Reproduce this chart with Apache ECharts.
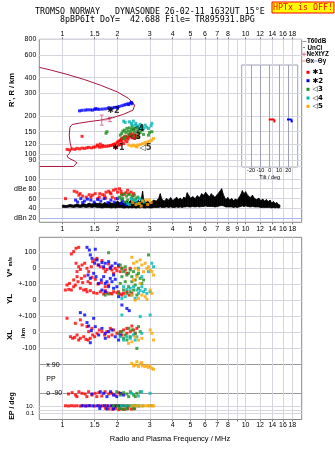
<!DOCTYPE html>
<html><head><meta charset="utf-8">
<script src="https://cdn.jsdelivr.net/npm/echarts@6/dist/echarts.min.js"></script>
<style>html,body{margin:0;padding:0;background:#fff}#c{width:335px;height:451px}</style>
</head><body><div id="c"></div>
<script>
// ---------- tick / label arrays ----------
const freqTicks = [1,1.5,2,3,4,5,6,7,8,9,10,12,14,16,18];
const freqLabelsTop = [1,1.5,2,3,4,5,6,7,8,10,12,14,16,18];
const freqLabelsMid = [1,1.5,2,3,4,5,6,7,8,9,10,12,14,16,18];
const heightTicks = [800,600,400,300,200,150,120,100,90,80];
const dbTicks = [100,80,60,40,20];
const dbTickLabels = ['100','dBe 80','60','40','dBn 20'];
const rowTicks = [100,0,-100,-200];
const rowTickLabels = ['100','0','+-100','0'];
const xlTicks = [100,0,-100];
const xlTickLabels = ['+-100','0','-100'];
const ppTicks = [90,0,-90];
const ppTickLabels = ['x 90','PP','o -90'];
const epTicks = [10,1,0.1];
const epLabelVals = [10,0.1];
const epLabelText = ['10.','0.1'];
const tiltTicks = [-20,-10,0,10,20];
const modeNames = ['\u27311','\u27312','\u25C13','\u25C14','\u25C15'];

// ---------- true-height profile ----------
const profileF = [0.75,0.86,1.06,1.31,1.61,1.99,2.30,2.48,2.43,2.16,1.87,1.61,1.39,1.23,1.13,1.10,1.09,1.10,1.12,1.12,1.09,1.06,1.08,1.16,1.20,1.22,1.15,0.75];
const profileH = [481,459,424,387,349,309,274,243,222,206,193,185,180,175,171,163,141,124,111,109,101,97,93,88.7,85.5,83,80,80];

// NeXtYZ error bars
const nexF = [1.64,1.82];
const nexH = [185,187];
const nexLo = [169,180];
const nexHi = [203,194];

// virtual heights per mode [MHz, km]
const virtH1 = [[1.06,109],[1.09,108],[1.13,110],[1.17,109],[1.20,111],[1.24,110],[1.28,111.5],[1.28,138],[1.32,111],[1.36,112],[1.39,113],[1.44,112],[1.48,113.5],[1.51,114],[1.55,118],[1.56,116],[1.59,113.5],[1.61,120],[1.64,114],[1.66,117],[1.70,115],[1.75,115.6],[1.79,116],[1.83,117],[1.87,117.8],[1.90,119],[1.93,114],[1.94,120.6],[1.97,112.8],[1.99,122.7],[2.01,125],[2.03,117.8],[2.04,126.6],[2.07,128.9],[2.07,119],[2.10,130.6],[2.11,133],[2.11,125],[2.16,134.4],[2.16,121],[2.18,136.8],[2.20,128.9],[2.22,138.6],[2.25,134.4],[2.25,125],[2.28,131.3],[2.30,136],[2.32,141],[2.35,143],[2.38,139],[2.40,134.4],[2.41,144.5],[2.44,136.8],[2.48,133],[2.50,141],[2.55,139],[2.60,135]];
const virtH2 = [[1.24,219],[1.28,221],[1.33,222],[1.37,223],[1.42,223],[1.46,222],[1.50,225],[1.52,228],[1.55,226],[1.59,225],[1.65,226],[1.71,227],[1.77,229],[1.80,232],[1.83,227],[1.88,231],[1.93,233],[1.99,234],[2.00,230],[2.04,237],[2.11,240],[2.17,243],[2.22,246],[2.28,249],[2.30,245],[2.35,252],[2.38,255],[2.40,249]];
const virtH3 = [[1.73,146],[1.75,150],[2.07,141],[2.11,145.5],[2.14,151.7],[2.16,133],[2.18,154.5],[2.20,136.8],[2.22,148.2],[2.25,159.3],[2.28,151.7],[2.30,143],[2.32,161],[2.35,149.8],[2.38,156.4],[2.40,139],[2.41,163.9],[2.44,154.5],[2.48,148.2],[2.50,159.3],[2.55,162.1],[2.55,136.8],[2.58,151.7],[2.60,145.5],[2.63,157.3],[2.66,148.2],[2.69,163.9],[2.74,154.5],[2.77,143],[2.95,141],[2.99,148.2],[3.08,150]];
const virtH4 = [[2.16,181.8],[2.20,177.6],[2.32,179.6],[2.38,174.6],[2.40,169.1],[2.44,181.8],[2.50,169.1],[2.52,174.6],[2.58,167],[2.63,159.3],[2.66,171.3],[2.74,163.9],[2.77,159.3],[2.83,169.1],[2.88,163],[2.95,159.3],[3.05,167],[3.08,174.6]];
const virtH5 = [[2.30,117.8],[2.38,116],[2.44,117.8],[2.50,115.6],[2.55,114],[2.58,117.8],[2.66,119],[2.74,121],[2.83,123.6],[2.86,119],[2.93,125],[3.01,126.6],[3.08,128.9],[3.14,133]];

// mode label positions
const modeLabelF = [2.02,1.90,2.50,2.59,2.85];
const modeLabelH = [112.5,219,136.6,158,112.5];

// tilt inset
const tiltLo = [-1,18.5];
const tiltHi = [5,23.5];
const tiltH = [187,187];

// noise (T60dB) trace
const noiseF = [1.00,1.05,1.10,1.15,1.20,1.25,1.30,1.35,1.40,1.45,1.50,1.55,1.60,1.65,1.70,1.75,1.80,1.85,1.90,1.95,2.00,2.05,2.10,2.15,2.20,2.25,2.30,2.35,2.40,2.45,2.50,2.55,2.60,2.65,2.70,
 2.74,2.78,2.85,2.92,3.00,3.08,3.15,3.25,3.35,3.42,3.50,3.60,3.70,3.80,3.90,4.00,4.10,4.20,4.30,4.40,4.50,4.60,4.70,4.80,4.90,5.00,
 5.15,5.30,5.45,5.60,5.75,5.90,6.05,6.20,6.35,6.50,6.65,6.80,
 7.00,7.20,7.40,7.60,7.80,8.00,8.20,8.40,8.60,8.80,9.00,9.20,9.40,9.60,9.80,
 10.0,10.3,10.6,10.9,11.2,11.5,11.8,12.1,12.4,12.7,13.0,13.3,13.6,13.9,14.2,14.5,14.8,15.1,15.4];
const noiseTop = [47,46,48,47,49,47,50,48,51,49,52,50,51,49,52,50,53,51,50,52,55,52,54,51,53,55,52,56,53,55,52,54,56,53,62,
 75,58,52,55,51,54,57,55,60,70,58,55,60,57,62,56,59,63,58,61,57,63,60,72,66,61,
 64,60,66,62,70,67,73,68,64,70,66,63,
 68,74,80,66,58,62,57,60,56,59,57,62,68,76,70,
 74,66,62,67,60,58,61,56,59,55,58,54,57,51,54,50,52,48,47];
const noiseBot = [42,42,43,42,43,42,43,42,43,42,43,42,42,41,42,42,42,41,42,41,42,42,42,41,41,42,41,42,41,42,41,41,42,41,42,
 42,41,41,42,41,41,42,42,42,43,42,42,43,42,43,42,42,43,42,43,42,43,43,44,43,43,
 44,43,44,43,44,44,45,44,44,44,44,43,
 44,45,46,45,43,43,43,43,42,43,42,43,44,45,44,
 45,44,43,44,43,43,43,42,42,42,42,42,42,41,42,41,42,41,42];

// amplitudes dB per mode
const amp1 = [[1.04,60],[1.16,75],[1.20,73],[1.23,67],[1.25,70],[1.29,65],[1.35,63],[1.40,68],[1.43,63],[1.46,67],[1.51,70],[1.56,60],[1.59,63],[1.60,70],[1.66,68],[1.70,66],[1.72,61],[1.73,73],[1.79,75],[1.82,72],[1.84,70],[1.87,63],[1.90,77],[1.95,60],[1.96,79],[2.00,73],[2.05,80],[2.09,75],[2.10,70],[2.15,68],[2.22,72],[2.27,77],[2.30,70],[2.37,73],[2.42,66],[2.45,70]];
const amp2 = [[1.18,57],[1.21,53],[1.26,60],[1.29,52],[1.32,55],[1.37,59],[1.43,57],[1.49,53],[1.56,58],[1.62,55],[1.69,60],[1.77,52],[1.84,57],[1.92,53],[2.00,60],[2.09,50],[2.13,55],[2.22,48]];
const amp3 = [[2.05,63],[2.09,59],[2.11,67],[2.13,60],[2.18,70],[2.21,53],[2.24,65],[2.27,57],[2.32,68],[2.40,63],[2.42,57],[2.47,67],[2.52,60],[2.58,63]];
const amp4 = [[2.27,50],[2.32,48],[2.37,60],[2.47,57],[2.52,55],[2.58,50],[2.63,60],[2.72,57],[2.80,53]];
const amp5 = [[2.42,52],[2.52,48],[2.63,50],[2.69,45],[2.74,55],[2.86,57],[2.92,48],[2.98,57],[3.05,52]];

// V* m/s per mode
const vel1 = [[1.119,91],[1.152,106],[1.187,127],[1.227,133],[1.187,32],[1.227,10],[1.202,-21],[1.253,-7],[1.280,21],[1.323,32],[1.362,0],[1.391,-21],[1.438,10],[1.463,42],[1.500,53],[1.544,63],[1.564,21],[1.610,10],[1.644,49],[1.679,0],[1.714,-21],[1.750,-7],[1.787,27],[1.825,6],[1.864,-11],[1.903,-32],[1.943,0],[1.984,-15],[2.026,10],[2.069,-21],[2.112,0],[2.203,-11],[2.249,-32],[2.345,0],[1.060,-106],[1.092,-96],[1.119,-138],[1.152,-117],[1.177,-106],[1.217,-85],[1.253,-127],[1.306,-138],[1.362,-149],[1.420,-142],[1.481,-155],[1.544,-159],[1.610,-149],[1.679,-163],[1.750,-155],[1.825,-159],[1.903,-149],[1.984,-155],[2.069,-163],[2.157,-159],[2.249,-149],[2.316,-170],[2.394,-159],[1.380,-85],[1.420,-96],[1.450,-57],[1.512,-70],[1.564,-100],[1.631,-91],[1.714,-117],[1.787,-106],[1.269,-64],[1.290,-91],[1.152,-74],[1.083,-134],[1.038,-138],[1.202,-53],[1.323,-49],[1.345,-134],[1.714,-142],[1.864,-163],[2.026,-149],[2.112,-170]];
const vel2 = [[1.362,133],[1.403,116],[1.420,85],[1.512,121],[1.450,63],[1.500,32],[1.544,53],[1.577,21],[1.644,36],[1.679,10],[1.714,32],[1.787,42],[1.825,0],[1.864,15],[1.943,32],[2.026,21],[1.380,-43],[1.420,-64],[1.481,-32],[1.525,-53],[1.577,-96],[1.631,-74],[1.679,-53],[1.714,-96],[1.750,-85],[1.787,-117],[1.825,-64],[1.864,-85],[1.903,-43],[1.943,-70],[1.984,-117],[1.644,-138],[1.714,-149],[1.903,-127],[2.112,-233],[2.249,-255],[2.316,-269],[2.026,-180]];
const vel3 = [[1.787,99],[2.069,21],[2.112,0],[2.157,-21],[2.203,10],[2.249,-43],[2.297,-32],[2.345,-11],[2.394,-53],[2.445,-21],[2.496,-74],[2.550,-43],[2.603,-32],[2.658,-64],[2.714,-96],[2.771,-74],[2.112,-53],[2.203,-85],[2.297,-117],[2.394,-85],[2.496,-106],[2.603,-127],[2.069,-96],[2.157,-138],[2.249,-159],[2.345,-149],[2.445,-138],[2.550,-170],[2.026,-159],[1.714,-170],[1.787,-163],[2.951,85]];
const vel4 = [[2.157,-117],[2.249,-134],[2.345,-127],[2.445,-117],[2.550,-138],[2.658,-142],[2.714,-117],[2.771,-149],[2.830,-134],[2.890,-159],[3.013,-149],[3.077,32],[3.142,10],[2.951,-21],[2.603,0],[2.112,-191],[2.203,-180],[2.394,-170],[2.496,-191],[2.603,-159],[2.714,-53]];
const vel5 = [[2.394,70],[2.445,32],[2.496,0],[2.550,42],[2.603,-11],[2.658,53],[2.714,21],[2.771,-21],[2.830,32],[2.890,0],[2.951,10],[3.013,-11],[3.077,-21],[3.142,-43],[2.550,-53],[2.658,-96],[2.445,-74],[2.394,-170],[2.496,-202],[2.603,-191],[2.714,-170],[2.830,-180],[2.890,-197],[3.013,-138],[3.077,-159]];

// XL km per mode
const xl1 = [[1.060,87],[1.106,-30],[1.138,-40],[1.167,-34],[1.202,-19],[1.227,-51],[1.253,-40],[1.306,-30],[1.345,-47],[1.380,-51],[1.420,-40],[1.463,-19],[1.500,-30],[1.544,-8],[1.590,13],[1.644,2],[1.700,-19],[1.750,2],[1.825,23],[1.903,13],[1.984,-8],[2.069,2],[2.157,13],[2.249,23],[2.345,2],[2.445,13],[2.550,23],[1.253,77],[1.280,45],[1.362,34],[1.391,2],[1.177,55],[1.450,23],[1.787,-30],[1.864,-19],[2.112,-19],[2.249,-8],[2.394,38],[2.496,-8]];
const xl2 = [[1.253,123],[1.323,108],[1.362,60],[1.391,38],[1.438,9],[1.481,87],[1.512,34],[1.577,-19],[1.644,23],[1.714,-8],[1.787,2],[1.864,13],[1.420,-68],[1.943,-30],[2.026,-51],[2.069,-19],[1.714,-40]];
const xl3 = [[2.026,-8],[2.112,2],[2.203,-19],[2.297,23],[2.394,13],[2.496,-8],[2.603,34],[2.658,2],[2.157,-40],[2.249,-51],[2.550,-104],[2.345,-30]];
const xl4 = [[2.069,-30],[2.157,-51],[2.249,-30],[2.345,-40],[2.445,-19],[2.550,-30],[2.658,98],[3.013,108],[2.112,108],[2.714,-8],[2.496,-51]];
const xl5 = [[2.394,-62],[2.496,-30],[2.603,-51],[3.013,13],[3.077,-8],[3.142,-51],[2.297,-72],[2.714,-40]];

// PP deg per mode
const pp1 = [[1.08,-94],[1.13,-86],[1.18,-101],[1.20,-111],[1.23,-80],[1.28,-90],[1.33,-94],[1.36,-111],[1.39,-80],[1.45,-101],[1.51,-90],[1.54,-111],[1.58,-86],[1.64,-107],[1.71,-80],[1.79,-94],[1.86,-90],[1.94,-101],[2.03,-86],[2.11,-94]];
const pp2 = [[1.45,-94],[1.61,-80],[1.68,-90],[1.75,-111],[1.83,-80],[1.90,-101],[1.98,-111],[2.07,-90],[2.16,-101]];
const pp3 = [[1.98,-80],[2.07,-101],[2.16,-86],[2.25,-94],[2.30,-111],[2.35,-80],[2.45,-101],[2.50,-111],[2.55,-90],[2.66,-80]];
const pp4 = [[2.39,-90],[2.60,-107],[2.71,-80],[3.01,-90]];
const pp5 = [[2.39,98],[2.45,82],[2.50,88],[2.55,109],[2.60,78],[2.66,94],[2.71,103],[2.74,82],[2.83,78],[2.89,86],[2.95,73],[3.01,82],[3.08,67],[3.14,61]];

// EP deg per mode
const ep1 = [[1.04,14],[1.08,12],[1.12,15],[1.16,13],[1.20,14],[1.25,12],[1.30,15],[1.36,13],[1.42,14],[1.50,12],[1.58,15],[1.66,13],[1.75,14],[1.85,12],[1.95,15],[2.05,13],[2.15,14],[2.25,12],[1.72,3],[1.80,2],[1.88,1.5],[1.95,2.5],[2.03,1.2],[2.10,2],[2.18,1.5],[2.28,2.5],[2.38,1.8],[2.48,2.2]];
const ep2 = [[1.28,14],[1.34,12],[1.40,15],[1.47,13],[1.55,14],[1.62,12],[1.70,15],[1.78,13],[1.86,14],[1.94,12],[2.02,14],[1.60,2.5],[1.75,2],[1.90,2.2]];
const ep3 = [[1.90,14],[2.00,13],[2.10,15],[2.20,12],[2.30,14],[2.40,13],[2.50,15],[2.60,12],[2.05,2.5],[2.25,2],[2.45,2.5],[2.15,1.5]];
const ep4 = [[2.10,14],[2.22,13],[2.35,14],[2.48,12],[2.62,14],[2.75,13],[3.05,15]];
const ep5 = [[2.40,14],[2.50,13],[2.60,14],[2.70,12],[2.80,14],[2.90,13],[3.00,14],[3.10,13],[3.15,14],[2.95,15]];

// ---------- chart building ----------
const palette = ['#ff0000','#0000ff','#1f8f1f','#00b4b4','#ffa500'];
const FONT = 'Liberation Sans';
const gridLine = '#d6d6de';
const FMIN = 0.748, FMAX = 20.24;
const L = 39.3, W = 262.4;

function labelFor(vals, labels) {
  return function (v) {
    for (let i = 0; i < vals.length; i++) {
      if (Math.abs(vals[i] - v) <= 1e-6 * Math.max(1, Math.abs(vals[i]))) return labels[i];
    }
    return '';
  };
}
const fmtF = v => String(Math.round(v * 10) / 10);
const lbl = (extra) => Object.assign({fontFamily: FONT, fontSize: 7, color: '#000'}, extra);

function fx(grid, extra) {
  return Object.assign({
    gridIndex: grid, type: 'log', logBase: 10, min: FMIN, max: FMAX,
    axisLine: {show: false}, axisTick: {show: false}, axisLabel: {show: false}, splitLine: {show: false}
  }, extra || {});
}
function hiddenY(grid) {
  return {gridIndex: grid, type: 'value', min: 0, max: 1, show: false, splitLine: {show: false}};
}

const grids = [
  {left: L, top: 39.3, width: W, height: 183, show: true, borderColor: '#888', borderWidth: 1},   // 0 frame top
  {left: L, top: 39.3, width: W, height: 128.7},                                                  // 1 heights
  {left: L, top: 169, width: W, height: 53.3},                                                    // 2 dB
  {left: 241.7, top: 65, width: 56, height: 102, show: true, borderColor: '#a0a0b8', borderWidth: 1}, // 3 tilt
  {left: L, top: 237.3, width: W, height: 182.2, show: true, borderColor: '#888', borderWidth: 1},  // 4 frame bottom
  {left: L, top: 236.8, width: W, height: 63},    // 5 V*
  {left: L, top: 300.5, width: W, height: 63},    // 6 XL
  {left: L, top: 364.7, width: W, height: 28.6},  // 7 PP
  {left: L, top: 402.6, width: W, height: 14.8}   // 8 EP
];

const xAxes = [
  fx(0, {position: 'bottom',
    axisTick: {show: true, length: 2, customValues: freqTicks, lineStyle: {color: '#777'}},
    axisLabel: lbl({show: true, customValues: freqLabelsMid, formatter: fmtF, margin: 3}),
    splitLine: {show: true, lineStyle: {color: gridLine, width: 1}}}),
  fx(1, {position: 'top',
    axisTick: {show: true, length: 2, customValues: freqLabelsTop, lineStyle: {color: '#777'}},
    axisLabel: lbl({show: true, customValues: freqLabelsTop, formatter: fmtF, margin: 2})}),
  fx(2),
  {gridIndex: 3, type: 'value', min: -30, max: 30,
    axisLine: {show: false},
    axisTick: {show: false, customValues: tiltTicks},
    axisLabel: lbl({customValues: tiltTicks, fontSize: 5.5, margin: 0.5}),
    splitLine: {show: true, lineStyle: {color: '#a0a0b8', width: 1}},
    name: 'Tilt / deg', nameLocation: 'middle', nameGap: 6,
    nameTextStyle: {fontFamily: FONT, fontSize: 5.5, color: '#000'}},
  fx(4, {position: 'bottom',
    axisTick: {show: true, length: 2, customValues: freqTicks, lineStyle: {color: '#777'}},
    axisLabel: lbl({show: true, customValues: freqLabelsTop, formatter: fmtF, margin: 2}),
    splitLine: {show: true, lineStyle: {color: gridLine, width: 1}}}),
  fx(5), fx(6), fx(7), fx(8)
];

const yAxes = [
  hiddenY(0),
  {gridIndex: 1, type: 'log', logBase: 10, min: 77.8, max: 800,
    axisLine: {show: false}, axisTick: {show: false, customValues: heightTicks},
    axisLabel: lbl({customValues: heightTicks, margin: 3}),
    splitLine: {show: true, lineStyle: {color: gridLine}}},
  {gridIndex: 2, type: 'value', min: 12, max: 120,
    axisLine: {show: false}, axisTick: {show: false, customValues: [100,80,60,40]},
    axisLabel: lbl({customValues: dbTicks, formatter: labelFor(dbTicks, dbTickLabels), margin: 3}),
    splitLine: {show: true, lineStyle: {color: gridLine}}},
  {gridIndex: 3, type: 'log', logBase: 10, min: 79, max: 502, show: false, splitLine: {show: false}},
  hiddenY(4),
  {gridIndex: 5, type: 'value', min: -200, max: 200,
    axisLine: {show: false}, axisTick: {show: false, customValues: rowTicks},
    axisLabel: lbl({customValues: rowTicks, formatter: labelFor(rowTicks, rowTickLabels), margin: 3}),
    splitLine: {show: true, lineStyle: {color: gridLine}}},
  {gridIndex: 6, type: 'value', min: -200, max: 200,
    axisLine: {show: false}, axisTick: {show: false, customValues: xlTicks},
    axisLabel: lbl({customValues: xlTicks, formatter: labelFor(xlTicks, xlTickLabels), margin: 3}),
    splitLine: {show: true, lineStyle: {color: gridLine}}},
  {gridIndex: 7, type: 'value', min: -90, max: 90,
    axisLine: {show: false}, axisTick: {show: false, customValues: [90,-90]},
    axisLabel: lbl({customValues: ppTicks, formatter: labelFor(ppTicks, ppTickLabels), inside: true, margin: 7}),
    splitLine: {show: true, lineStyle: {color: '#999'}}},
  {gridIndex: 8, type: 'log', logBase: 10, min: 0.01, max: 100,
    axisLine: {show: false}, axisTick: {show: false, customValues: epTicks},
    axisLabel: lbl({customValues: epLabelVals, formatter: labelFor(epLabelVals, epLabelText), fontSize: 6, margin: 5}),
    splitLine: {show: true, lineStyle: {color: gridLine}}}
];

function sc(data, color, ai) {
  return {type: 'scatter', data: data, xAxisIndex: ai, yAxisIndex: ai, symbol: 'rect', symbolSize: 3,
    itemStyle: {color: color}, clip: false, silent: true, animation: false, z: 3};
}

const series = [];
// profile
series.push({type: 'line', xAxisIndex: 1, yAxisIndex: 1, data: profileF.map((f, i) => [f, profileH[i]]),
  showSymbol: false, lineStyle: {color: '#a8163f', width: 1}, silent: true, animation: false, z: 2});
// NeXtYZ
series.push({type: 'line', xAxisIndex: 1, yAxisIndex: 1, data: nexF.map((f, i) => [f, nexH[i]]),
  showSymbol: false, lineStyle: {color: '#e8709c', width: 1}, silent: true, animation: false, z: 2});
series.push({type: 'custom', xAxisIndex: 1, yAxisIndex: 1, silent: true, animation: false, z: 2,
  data: nexF.map((f, i) => [f, nexH[i], nexLo[i], nexHi[i]]),
  renderItem: function (params, api) {
    const a = api.coord([api.value(0), api.value(2)]);
    const b = api.coord([api.value(0), api.value(3)]);
    const st = {stroke: '#e8709c', lineWidth: 1};
    return {type: 'group', children: [
      {type: 'line', shape: {x1: a[0], y1: a[1], x2: b[0], y2: b[1]}, style: st},
      {type: 'line', shape: {x1: a[0] - 2, y1: a[1], x2: a[0] + 2, y2: a[1]}, style: st},
      {type: 'line', shape: {x1: b[0] - 2, y1: b[1], x2: b[0] + 2, y2: b[1]}, style: st}
    ]};
  }});
[virtH1, virtH2, virtH3, virtH4, virtH5].forEach((d, i) => series.push(sc(d, palette[i], 1)));
// mode labels
series.push({type: 'scatter', xAxisIndex: 1, yAxisIndex: 1, symbolSize: 0, silent: true, animation: false, z: 5,
  data: modeNames.map((n, i) => ({name: n, value: [modeLabelF[i], modeLabelH[i]]})),
  label: {show: true, position: 'inside', formatter: '{b}', color: '#000',
    fontFamily: 'DejaVu Sans', fontSize: 8, fontWeight: 'bold'}});
// noise band
series.push({type: 'custom', xAxisIndex: 2, yAxisIndex: 2, silent: true, animation: false, z: 2,
  data: noiseF.map((f, i) => [f, noiseTop[i], noiseBot[i]]),
  renderItem: function (params, api) {
    const i = params.dataIndex;
    if (i >= noiseF.length - 1) return null;
    const p1 = api.coord([api.value(0), api.value(1)]);
    const p4 = api.coord([api.value(0), api.value(2)]);
    const p2 = api.coord([noiseF[i + 1], noiseTop[i + 1]]);
    const p3 = api.coord([noiseF[i + 1], noiseBot[i + 1]]);
    return {type: 'polygon', shape: {points: [p1, p2, p3, p4]},
      style: {fill: '#000', stroke: '#000', lineWidth: 0.7}};
  }});
[amp1, amp2, amp3, amp4, amp5].forEach((d, i) => {
  const s = sc(d, palette[i], 2);
  if (i === 0) {
    s.markLine = {silent: true, symbol: 'none', label: {show: false}, animation: false,
      lineStyle: {color: '#aab4ee', type: 'solid', width: 1}, data: [{yAxis: 20}]};
  }
  series.push(s);
});
// tilt inset
series.push({type: 'custom', xAxisIndex: 3, yAxisIndex: 3, silent: true, animation: false, z: 4,
  data: tiltLo.map((t, i) => [t, tiltHi[i], tiltH[i]]),
  renderItem: function (params, api) {
    const a = api.coord([api.value(0), api.value(2)]);
    const b = api.coord([api.value(1), api.value(2)]);
    const c = palette[params.dataIndex];
    return {type: 'group', children: [
      {type: 'line', shape: {x1: a[0], y1: a[1], x2: b[0], y2: b[1]}, style: {stroke: c, lineWidth: 2}},
      {type: 'line', shape: {x1: b[0], y1: b[1], x2: b[0], y2: b[1] + 3}, style: {stroke: c, lineWidth: 2}}
    ]};
  }});
[vel1, vel2, vel3, vel4, vel5].forEach((d, i) => series.push(sc(d, palette[i], 5)));
[xl1, xl2, xl3, xl4, xl5].forEach((d, i) => series.push(sc(d, palette[i], 6)));
[pp1, pp2, pp3, pp4, pp5].forEach((d, i) => series.push(sc(d, palette[i], 7)));
[ep1, ep2, ep3, ep4, ep5].forEach((d, i) => series.push(sc(d, palette[i], 8)));

// ---------- texts ----------
const MONO = '8.3px "DejaVu Sans Mono"';
function txt(x, y, text, font, extra) {
  return Object.assign({type: 'text', x: x, y: y, z: 10, silent: true,
    style: Object.assign({text: text, font: font, fill: '#000', align: 'left', verticalAlign: 'middle',
      textAlign: 'left', textVerticalAlign: 'middle'}, (extra && extra.style) || {})},
    extra && extra.rotation !== undefined ? {rotation: extra.rotation} : {});
}
const C = {align: 'center', textAlign: 'center'};
const R90 = Math.PI / 2;
const LEG = 'bold 6.3px "Liberation Sans"';
const legendY = [72.3, 80.7, 89.3, 98, 106.3];

const graphics = [
  txt(35, 12.3, 'TROMSO NORWAY   DYNASONDE 26-02-11 1632UT 15\u00B0E', MONO),
  txt(60, 19.7, '8pBP6It DoY=  42.688 File= TR895931.BPG', MONO),
  {type: 'rect', z: 10, silent: true, shape: {x: 272, y: 2, width: 62, height: 11},
    style: {fill: '#ffff00', stroke: '#ff0000', lineWidth: 1}},
  txt(303, 7.8, 'HPTx is OFF!', MONO, {style: Object.assign({fill: '#ff0000'}, C)}),
  txt(12, 90, "R', R / km", 'bold 7.5px "Liberation Sans"', {rotation: R90, style: C}),
  txt(10, 267, '', 'bold 8px "Liberation Sans"', {rotation: R90, style: Object.assign({
    text: '{a|V*} {b|m/s}', rich: {a: {font: 'bold 8px "Liberation Sans"'}, b: {font: 'bold 5.5px "Liberation Sans"'}}}, C)}),
  txt(10, 299, 'YL', 'bold 8px "Liberation Sans"', {rotation: R90, style: C}),
  txt(10, 335, 'XL', 'bold 8px "Liberation Sans"', {rotation: R90, style: C}),
  txt(23.5, 333, '/km', 'bold 6px "Liberation Sans"', {rotation: R90, style: C}),
  txt(12, 406, 'EP / deg', 'bold 7px "Liberation Sans"', {rotation: R90, style: C}),
  txt(170, 439, 'Radio and Plasma Frequency / MHz', '7.5px "Liberation Sans"', {style: C}),
  // legend
  {type: 'line', z: 10, silent: true, shape: {x1: 302.5, y1: 41.5, x2: 306.5, y2: 41.5}, style: {stroke: '#999', lineWidth: 1}},
  txt(307, 41.5, 'T60dB', LEG),
  {type: 'rect', z: 10, silent: true, shape: {x: 303.5, y: 47, width: 1, height: 1}, style: {fill: '#000'}},
  txt(307.5, 47.8, 'UnCl', LEG),
  {type: 'line', z: 10, silent: true, shape: {x1: 302, y1: 54.3, x2: 306, y2: 54.3}, style: {stroke: '#e8709c', lineWidth: 1}},
  {type: 'line', z: 10, silent: true, shape: {x1: 304, y1: 52.3, x2: 304, y2: 56.3}, style: {stroke: '#e8709c', lineWidth: 1}},
  txt(306.5, 54.3, 'NeXtYZ', LEG),
  {type: 'line', z: 10, silent: true, shape: {x1: 302, y1: 61, x2: 305.5, y2: 61}, style: {stroke: '#f08080', lineWidth: 1}},
  txt(305.7, 61, '\u0398x', LEG),
  {type: 'line', z: 10, silent: true, shape: {x1: 313, y1: 61, x2: 317.5, y2: 61}, style: {stroke: '#9090e0', lineWidth: 1}},
  txt(317.8, 61, '\u0398y', LEG)
];
modeNames.forEach((n, i) => {
  graphics.push({type: 'rect', z: 10, silent: true, shape: {x: 306.5, y: legendY[i] - 1.5, width: 3, height: 3},
    style: {fill: palette[i]}});
  graphics.push(txt(312.5, legendY[i], n, 'bold 7px "DejaVu Sans"'));
});

const chart = echarts.init(document.getElementById('c'), null, {renderer: 'canvas', width: 335, height: 451});
chart.setOption({
  backgroundColor: '#fff',
  animation: false,
  grid: grids,
  xAxis: xAxes,
  yAxis: yAxes,
  series: series,
  graphic: {elements: graphics}
});
</script></body></html>
